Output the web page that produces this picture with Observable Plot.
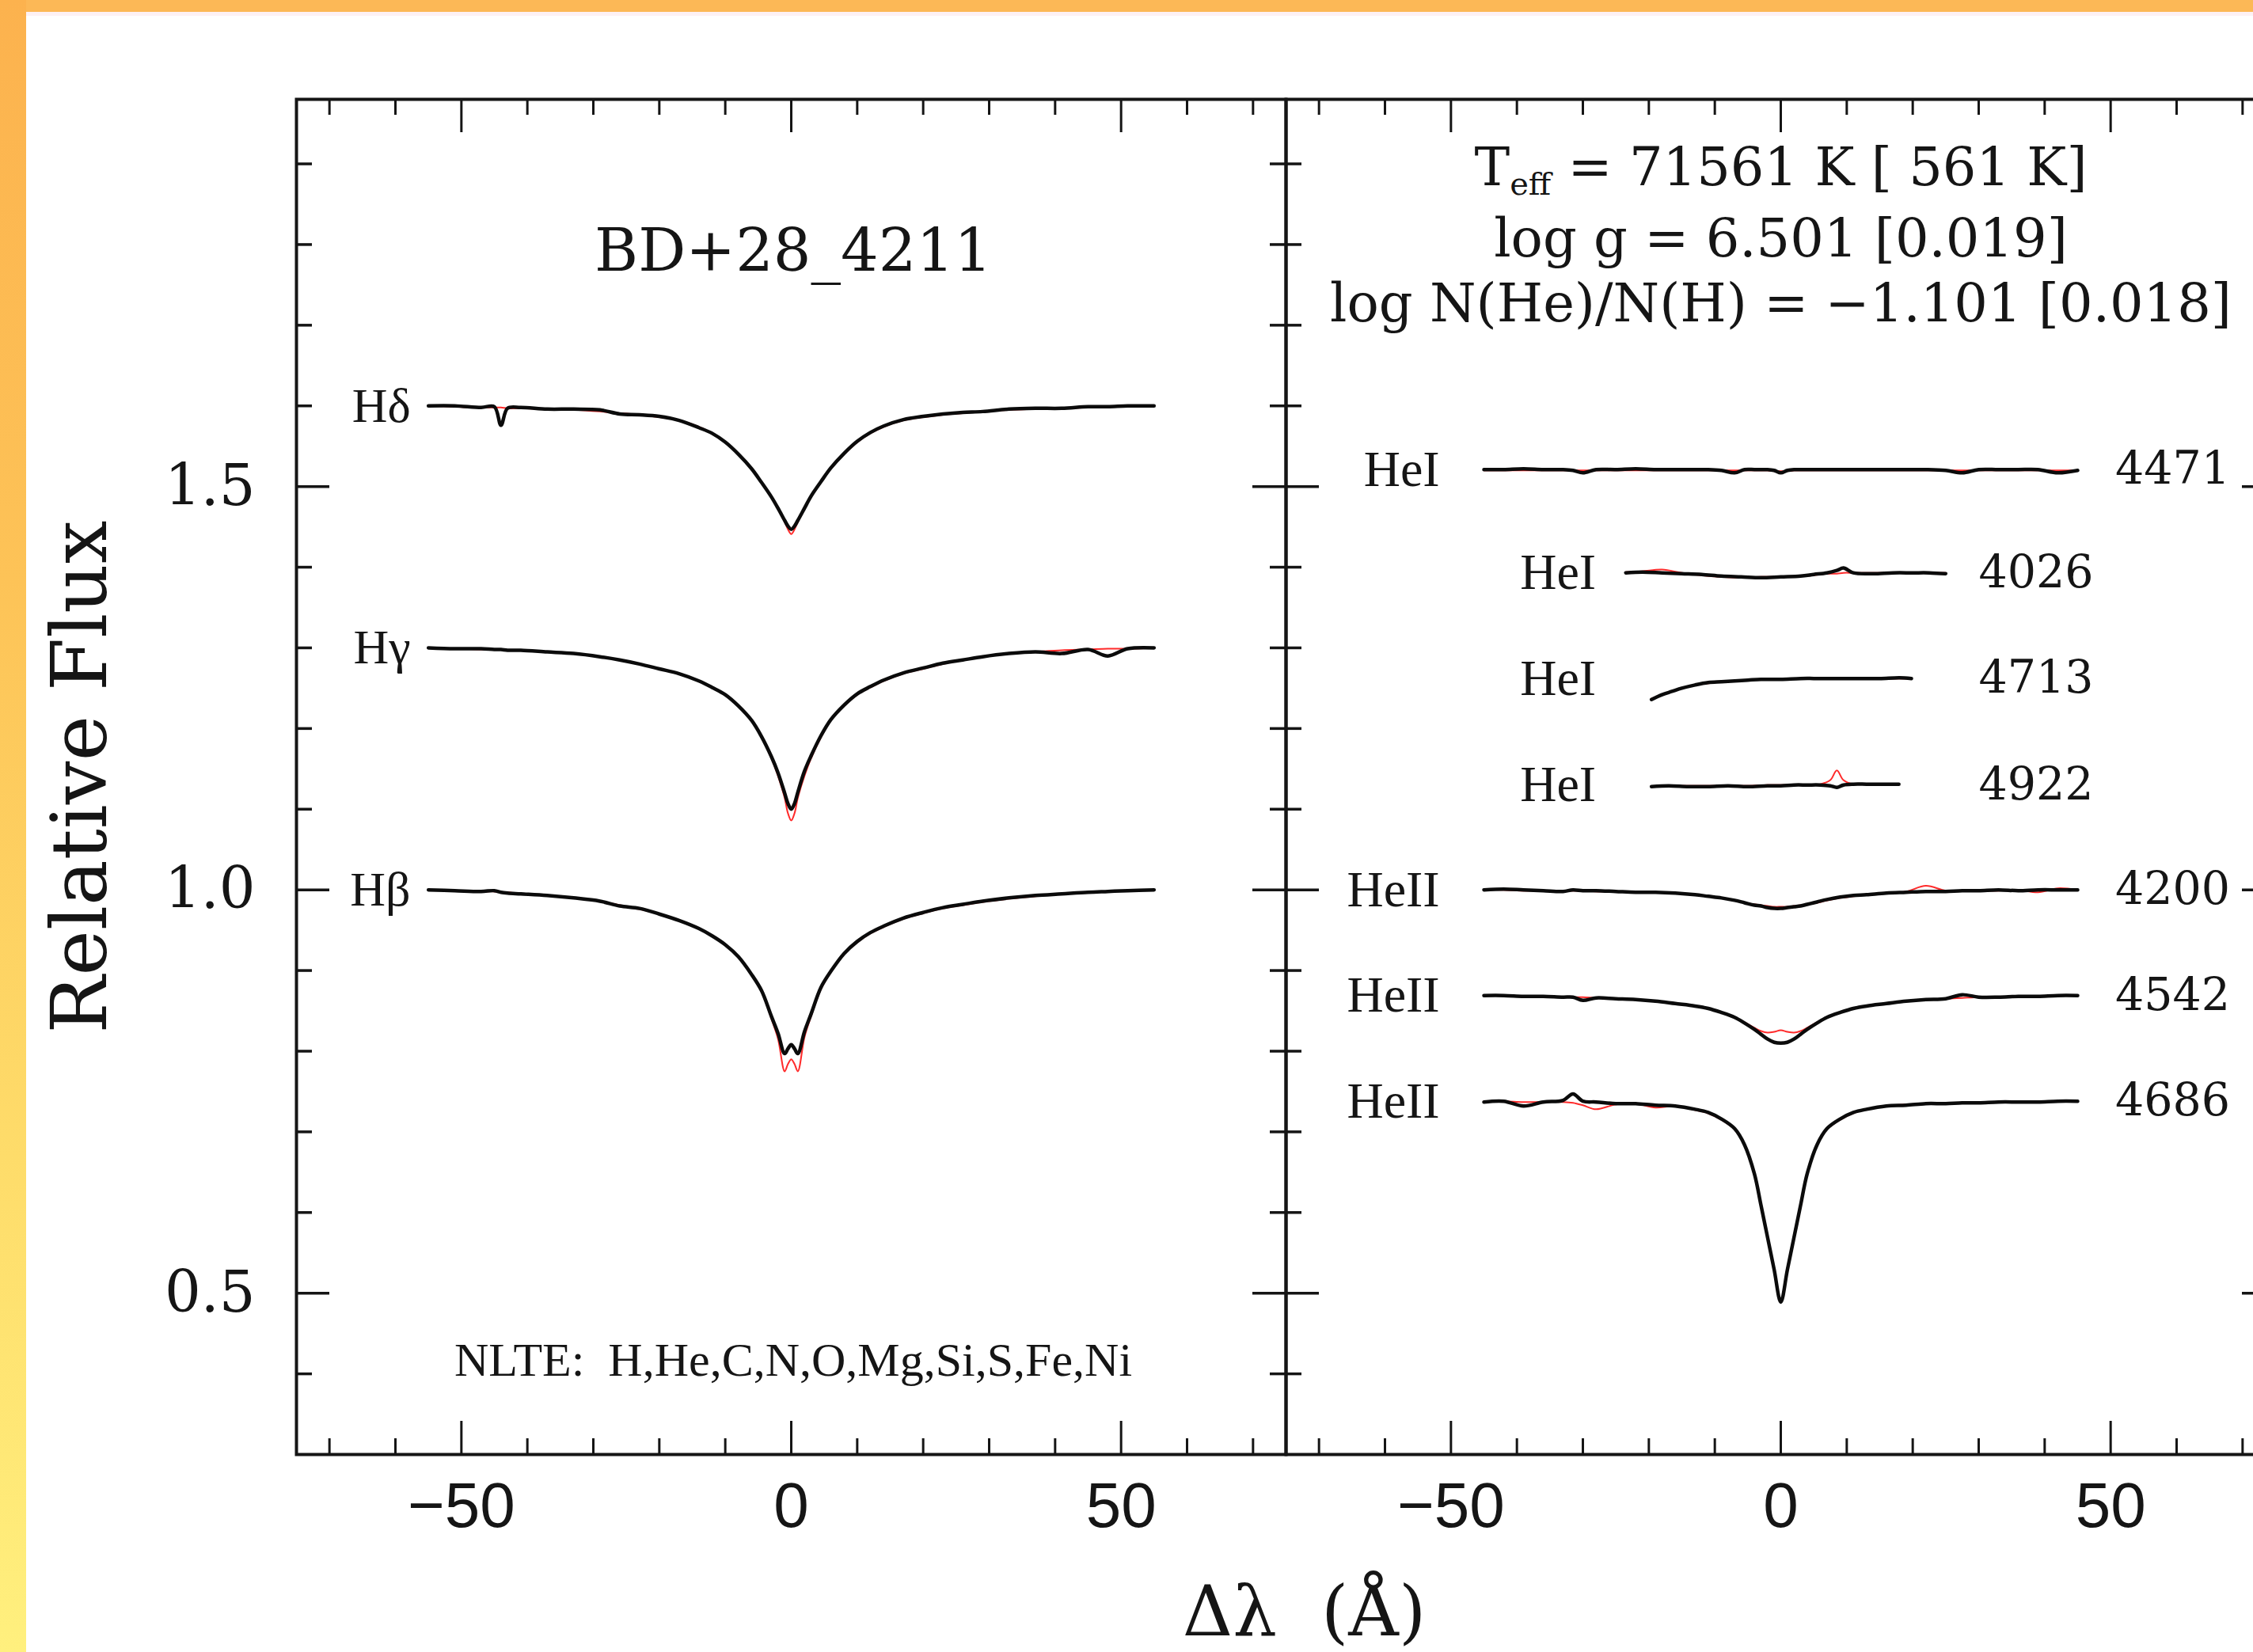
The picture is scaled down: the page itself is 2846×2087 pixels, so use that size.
<!DOCTYPE html>
<html>
<head>
<meta charset="utf-8">
<script src="https://cdn.jsdelivr.net/npm/d3@7"></script>
<script src="https://cdn.jsdelivr.net/npm/@observablehq/plot@0.6"></script>
<style>
  html, body { margin: 0; padding: 0; background: #fff; overflow: hidden; width: 2846px; height: 2087px; }
  #wrap { position: absolute; left: 0; top: 0; width: 2846px; height: 2087px; overflow: hidden; background: #fff; }
  #chart { position: absolute; left: 0; top: 0; }
  #topband { position: absolute; left: 0; top: 0; width: 2846px; height: 15px; background: #fcb856; z-index: 3; }
  #topglow { position: absolute; left: 0; top: 15px; width: 2846px; height: 5px; background: #fdf1f4; z-index: 2; }
  #leftband { position: absolute; left: 0; top: 0; width: 33px; height: 2087px; z-index: 4;
    background: linear-gradient(to bottom, #fcb24e 0%, #fdc357 35%, #fedc6a 70%, #fff07e 100%); }
</style>
</head>
<body>
<div id="wrap">
  <div id="chart"></div>
  <div id="topband"></div>
  <div id="topglow"></div>
  <div id="leftband"></div>
</div>
<script>
// ---------------- data ----------------
// Balmer lines (left panel): offsets from line centre, Angstrom
const balmerDx = [-55,-51,-47,-45,-44,-43,-41,-37,-33,-29,
                  -26,-23,-20,-17,-14,-12,-10,-8,-6,-4.5,
                  -3,-2,-1,-0.5,0,0.5,1,2,3,4.5,
                  6,8,10,12,14,17,20,23,26,29,
                  33,37,41,45,48,51,55];
const hDeltaObs = [1.600,1.600,1.598,1.599,1.576,1.597,1.598,1.596,1.596,1.595,
                   1.590,1.589,1.587,1.582,1.573,1.566,1.555,1.540,1.522,1.505,
                   1.487,1.473,1.458,1.451,1.447,1.451,1.458,1.473,1.488,1.506,
                   1.523,1.541,1.556,1.567,1.575,1.583,1.587,1.590,1.592,1.593,
                   1.596,1.597,1.597,1.599,1.599,1.600,1.600];
const hDeltaFit = [1.600,1.599,1.598,1.598,1.598,1.597,1.597,1.596,1.595,1.593,
                   1.591,1.589,1.586,1.582,1.574,1.566,1.555,1.540,1.522,1.505,
                   1.487,1.472,1.456,1.447,1.441,1.447,1.456,1.472,1.487,1.505,
                   1.522,1.540,1.555,1.566,1.574,1.582,1.586,1.589,1.591,1.593,
                   1.595,1.596,1.597,1.598,1.599,1.599,1.600];
const hGammaObs = [1.300,1.299,1.299,1.298,1.298,1.297,1.297,1.295,1.293,1.289,
                   1.285,1.280,1.274,1.268,1.259,1.251,1.242,1.228,1.210,1.190,
                   1.165,1.145,1.120,1.107,1.100,1.107,1.121,1.147,1.166,1.191,
                   1.211,1.229,1.243,1.252,1.260,1.269,1.275,1.281,1.285,1.289,
                   1.293,1.295,1.293,1.298,1.290,1.299,1.300];
const hGammaFit = [1.300,1.299,1.298,1.298,1.298,1.297,1.297,1.295,1.293,1.289,
                   1.285,1.280,1.274,1.268,1.259,1.251,1.242,1.228,1.210,1.189,
                   1.163,1.141,1.114,1.095,1.086,1.095,1.114,1.141,1.163,1.189,
                   1.210,1.228,1.242,1.251,1.259,1.268,1.274,1.280,1.285,1.289,
                   1.293,1.295,1.297,1.298,1.299,1.299,1.300];
const hBetaObs  = [1.000,0.999,0.998,0.999,0.997,0.996,0.995,0.993,0.990,0.986,
                   0.980,0.977,0.970,0.962,0.952,0.943,0.932,0.917,0.895,0.875,
                   0.843,0.822,0.797,0.803,0.808,0.803,0.797,0.824,0.846,0.879,
                   0.899,0.921,0.936,0.947,0.955,0.965,0.972,0.978,0.982,0.986,
                   0.990,0.993,0.995,0.997,0.998,0.999,1.000];
const hBetaFit  = [1.000,0.999,0.998,0.998,0.997,0.997,0.995,0.993,0.990,0.986,
                   0.981,0.976,0.970,0.962,0.952,0.943,0.932,0.917,0.895,0.874,
                   0.840,0.815,0.775,0.784,0.790,0.784,0.775,0.817,0.843,0.877,
                   0.898,0.920,0.935,0.946,0.954,0.964,0.971,0.977,0.981,0.985,
                   0.989,0.992,0.995,0.997,0.998,0.999,1.000];

// Helium lines (right panel)
const heDx = [-45,-42,-39,-36,-33,-31.5,-30,-28,-25,-22,
              -19,-16,-13,-11,-9,-7,-5.5,-4,-3,-2,
              -1,0,1,2,3,4,5.5,7,9,11,
              13,16,19,22,25,27.5,30,33,36,39,
              42,45];
const he4471Obs = [1.521,1.521,1.522,1.521,1.521,1.520,1.517,1.521,1.521,1.522,
                   1.521,1.521,1.521,1.521,1.520,1.517,1.521,1.521,1.521,1.521,
                   1.520,1.517,1.520,1.521,1.521,1.521,1.521,1.521,1.521,1.521,
                   1.521,1.521,1.521,1.521,1.520,1.517,1.521,1.521,1.521,1.521,
                   1.517,1.520];
const he4471Fit = [1.520,1.520,1.520,1.520,1.520,1.520,1.520,1.520,1.520,1.520,
                   1.520,1.520,1.520,1.520,1.520,1.520,1.520,1.520,1.520,1.520,
                   1.519,1.519,1.519,1.520,1.520,1.520,1.520,1.520,1.520,1.520,
                   1.520,1.520,1.520,1.520,1.520,1.520,1.520,1.520,1.520,1.520,
                   1.520,1.520];
const he4200Obs = [1.000,1.001,1.000,0.999,0.998,1.000,0.999,0.999,0.998,0.997,
                   0.997,0.996,0.994,0.992,0.990,0.987,0.984,0.981,0.980,0.978,
                   0.977,0.977,0.978,0.979,0.980,0.982,0.985,0.988,0.991,0.993,
                   0.994,0.996,0.997,0.998,0.998,0.999,0.999,1.000,0.999,1.000,
                   1.000,1.000];
const he4200Fit = [1.000,1.000,0.999,0.999,0.999,0.999,0.999,0.998,0.998,0.998,
                   0.997,0.996,0.994,0.992,0.990,0.987,0.984,0.982,0.981,0.980,
                   0.979,0.979,0.979,0.980,0.981,0.982,0.984,0.987,0.990,0.992,
                   0.994,0.996,0.998,1.005,0.999,0.999,0.999,0.999,1.000,0.997,
                   1.002,1.000];
const he4542Obs = [0.869,0.869,0.868,0.868,0.867,0.867,0.863,0.866,0.865,0.864,
                   0.862,0.859,0.856,0.853,0.848,0.842,0.835,0.827,0.821,0.815,
                   0.811,0.810,0.811,0.815,0.821,0.827,0.835,0.842,0.848,0.853,
                   0.856,0.859,0.862,0.864,0.865,0.870,0.867,0.867,0.868,0.868,
                   0.869,0.869];
const he4542Fit = [0.869,0.869,0.868,0.868,0.867,0.867,0.867,0.866,0.865,0.864,
                   0.862,0.859,0.856,0.853,0.848,0.842,0.836,0.829,0.825,0.823,
                   0.824,0.826,0.824,0.823,0.825,0.829,0.836,0.842,0.848,0.853,
                   0.856,0.859,0.862,0.864,0.865,0.866,0.867,0.867,0.868,0.868,
                   0.869,0.869];
const he4686Obs = [0.737,0.738,0.732,0.737,0.739,0.747,0.738,0.737,0.735,0.735,
                   0.733,0.732,0.728,0.724,0.716,0.704,0.684,0.648,0.609,0.569,
                   0.529,0.489,0.529,0.569,0.609,0.648,0.684,0.704,0.716,0.724,
                   0.728,0.732,0.733,0.735,0.735,0.736,0.736,0.737,0.737,0.737,
                   0.738,0.738];
const he4686Fit = [0.738,0.738,0.737,0.737,0.737,0.736,0.733,0.728,0.734,0.735,
                   0.730,0.732,0.727,0.723,0.715,0.703,0.683,0.646,0.606,0.567,
                   0.528,0.492,0.528,0.567,0.606,0.646,0.683,0.703,0.715,0.723,
                   0.728,0.732,0.734,0.735,0.735,0.736,0.736,0.737,0.737,0.737,
                   0.738,0.738];
const he4026Dx  = [-23.5,-21,-18,-15,-12,-9,-6,-3,0,3,5,7,8.5,9.5,11,14,17,20,22.5,25];
const he4026Obs = [1.393,1.394,1.393,1.392,1.391,1.389,1.388,1.387,1.388,1.389,1.391,1.393,1.396,1.399,1.393,1.392,1.393,1.393,1.393,1.392];
const he4026Fit = [1.394,1.395,1.397,1.393,1.390,1.388,1.387,1.388,1.388,1.389,1.390,1.392,1.392,1.393,1.393,1.393,1.393,1.393,1.393,1.393];
const he4713Dx  = [-19.6,-18,-16.5,-15,-13,-11,-9,-7,-5,-3,0,3,6,9,12,15,18,19.8];
const he4713Obs = [1.236,1.242,1.246,1.250,1.254,1.257,1.258,1.259,1.260,1.261,1.261,1.262,1.262,1.262,1.262,1.262,1.263,1.262];
const he4713Fit = [1.237,1.242,1.246,1.250,1.254,1.256,1.258,1.259,1.260,1.261,1.261,1.262,1.262,1.262,1.262,1.262,1.262,1.262];
const he4922Dx  = [-19.6,-17,-14,-11,-8,-5,-2,0,2,4,6,7.5,8.5,9.5,11,13,15,17.9];
const he4922Obs = [1.128,1.129,1.128,1.128,1.129,1.128,1.129,1.129,1.130,1.130,1.130,1.129,1.127,1.130,1.131,1.131,1.131,1.131];
const he4922Fit = [1.128,1.129,1.129,1.129,1.129,1.129,1.130,1.130,1.130,1.130,1.131,1.136,1.148,1.136,1.131,1.131,1.131,1.131];

// labels and levels
const balmerNames  = ["H\u03b4", "H\u03b3", "H\u03b2"];
const balmerLevels = [1.60, 1.30, 1.00];
const heIons   = ["HeI", "HeI", "HeI", "HeI", "HeII", "HeII", "HeII"];
const heWaves  = ["4471", "4026", "4713", "4922", "4200", "4542", "4686"];
const heLevels = [1.521, 1.393, 1.262, 1.130, 1.000, 0.869, 0.738];
const starName   = "BD+28_4211";
const paramLines = ["Teff = 71561 K [ 561 K]", "log g = 6.501 [0.019]", "log N(He)/N(H) = \u22121.101 [0.018]"];
const nlteNote   = "NLTE:  H,He,C,N,O,Mg,Si,S,Fe,Ni";
const yTitle = "Relative Flux";
const xTitle = "\u0394\u03bb  (\u00c5)";
const xMajor = [-50, 0, 50];
const xMinor = [-70, -60, -40, -30, -20, -10, 10, 20, 30, 40, 60, 70];
const yMajor = [0.5, 1.0, 1.5];
const yMinor = [0.4, 0.6, 0.7, 0.8, 0.9, 1.1, 1.2, 1.3, 1.4, 1.6, 1.7, 1.8, 1.9];

// ---------------- layout (positions of annotations) ----------------
const balmerLabelX = -57.7;
const heIonX  = [-51.7, -28, -28, -28, -51.7, -51.7, -51.7];
const heWaveX = [50.7, 30, 30, 30, 50.7, 50.7, 50.7];
const starPos = [0.3, 1.791];
const paramY  = [1.895, 1.806, 1.726];
const nltePos = [0.3, 0.416];
const FRAME_W = 1250, FRAME_H = 1712, MINOR = 20, MAJOR = 42;
const INK = "#151515";

// ---------------- tables for the library ----------------
const spectra = [
  {panel: "H",  id: "Hd",   dx: balmerDx, obs: hDeltaObs, fit: hDeltaFit},
  {panel: "H",  id: "Hg",   dx: balmerDx, obs: hGammaObs, fit: hGammaFit},
  {panel: "H",  id: "Hb",   dx: balmerDx, obs: hBetaObs,  fit: hBetaFit},
  {panel: "He", id: "4471", dx: heDx,     obs: he4471Obs, fit: he4471Fit},
  {panel: "He", id: "4026", dx: he4026Dx, obs: he4026Obs, fit: he4026Fit},
  {panel: "He", id: "4713", dx: he4713Dx, obs: he4713Obs, fit: he4713Fit},
  {panel: "He", id: "4922", dx: he4922Dx, obs: he4922Obs, fit: he4922Fit},
  {panel: "He", id: "4200", dx: heDx,     obs: he4200Obs, fit: he4200Fit},
  {panel: "He", id: "4542", dx: heDx,     obs: he4542Obs, fit: he4542Fit},
  {panel: "He", id: "4686", dx: heDx,     obs: he4686Obs, fit: he4686Fit}
];
for (const s of spectra) {
  if (s.dx.length !== s.obs.length || s.dx.length !== s.fit.length)
    throw new Error("length mismatch " + s.id + " " + s.dx.length + "/" + s.obs.length + "/" + s.fit.length);
}
const obsRows = spectra.flatMap(s => s.dx.map((dx, i) => ({panel: s.panel, id: s.id, dx, flux: s.obs[i]})));
const fitRows = spectra.flatMap(s => s.dx.map((dx, i) => ({panel: s.panel, id: s.id, dx, flux: s.fit[i]})));

const balmerRows = balmerNames.map((t, i) => ({panel: "H", t, x: balmerLabelX, y: balmerLevels[i]}));
const ionRows  = heIons.map((t, i) => ({panel: "He", t, x: heIonX[i], y: heLevels[i]}));
const waveRows = heWaves.map((t, i) => ({panel: "He", t, x: heWaveX[i], y: heLevels[i]}));
const paramRows = paramLines.map((t, i) => ({panel: "He", t, x: 0, y: paramY[i]}));

const chart = Plot.plot({
  width: 2880,
  height: 2087,
  marginLeft: 374,
  marginRight: 6,
  marginTop: 125,
  marginBottom: 250,
  style: {background: "transparent", maxWidth: "none", overflow: "visible", color: INK, fontFamily: "DejaVu Serif"},
  x: {domain: [-75, 75]},
  y: {domain: [0.30, 1.98]},
  fx: {domain: ["H", "He"], padding: 0, axis: null, label: null},
  marks: [
    // tick marks on all four sides (inward, pgplot style)
    Plot.tickX(xMinor, {x: d => d, insetTop: FRAME_H - MINOR, stroke: INK, strokeWidth: 3}),
    Plot.tickX(xMinor, {x: d => d, insetBottom: FRAME_H - MINOR, stroke: INK, strokeWidth: 3}),
    Plot.tickX(xMajor, {x: d => d, insetTop: FRAME_H - MAJOR, stroke: INK, strokeWidth: 3}),
    Plot.tickX(xMajor, {x: d => d, insetBottom: FRAME_H - MAJOR, stroke: INK, strokeWidth: 3}),
    Plot.tickY(yMinor, {y: d => d, insetRight: FRAME_W - MINOR, stroke: INK, strokeWidth: 3.5}),
    Plot.tickY(yMinor, {y: d => d, insetLeft: FRAME_W - MINOR, stroke: INK, strokeWidth: 3.5}),
    Plot.tickY(yMajor, {y: d => d, insetRight: FRAME_W - MAJOR, stroke: INK, strokeWidth: 3.5}),
    Plot.tickY(yMajor, {y: d => d, insetLeft: FRAME_W - MAJOR, stroke: INK, strokeWidth: 3.5}),
    Plot.frame({stroke: INK, strokeWidth: 4}),

    // model (red, thin) under observation (black, thick)
    Plot.line(fitRows, {x: "dx", y: "flux", z: "id", fx: "panel", stroke: "#ff2a2a", strokeWidth: 2, curve: "catmull-rom"}),
    Plot.line(obsRows, {x: "dx", y: "flux", z: "id", fx: "panel", stroke: "#0b0b0b", strokeWidth: 4.5, curve: "catmull-rom"}),

    // line identifications
    Plot.text(balmerRows, {x: "x", y: "y", text: "t", fx: "panel", textAnchor: "end", fontFamily: "Liberation Serif", fontSize: 62, fill: INK}),
    Plot.text(ionRows, {x: "x", y: "y", text: "t", fx: "panel", textAnchor: "end", fontFamily: "Liberation Serif", fontSize: 64, fill: INK}),
    Plot.text(waveRows, {x: "x", y: "y", text: "t", fx: "panel", textAnchor: "start", fontFamily: "DejaVu Serif", fontSize: 57, fill: INK}),

    // annotations
    Plot.text([{panel: "H", t: starName}], {x: () => starPos[0], y: () => starPos[1], text: "t", fx: "panel", fontFamily: "DejaVu Serif", fontSize: 75, fill: INK}),
    Plot.text(paramRows, {x: "x", y: "y", text: "t", fx: "panel", fontFamily: "DejaVu Serif", fontSize: 67, fill: INK}),
    Plot.text([{panel: "H", t: nlteNote}], {x: () => nltePos[0], y: () => nltePos[1], text: "t", fx: "panel", fontFamily: "Liberation Serif", fontSize: 60, fill: INK}),

    // axis titles
    Plot.text([{panel: "H", t: yTitle}], {text: "t", fx: "panel", frameAnchor: "left", textAnchor: "middle", lineAnchor: "middle", rotate: -90, dx: -272, fontFamily: "DejaVu Serif", fontSize: 97, fill: INK}),
    Plot.text([{panel: "H", t: xTitle}], {text: "t", fx: "panel", frameAnchor: "bottom-right", textAnchor: "middle", lineAnchor: "middle", dx: 23, dy: 200, fontFamily: "DejaVu Serif", fontSize: 88, fill: INK}),

    // tick labels
    Plot.axisX({ticks: xMajor, tickSize: 0, tickPadding: 35, fontSize: 80, fontFamily: "Liberation Sans", label: null, fill: INK}),
    Plot.axisY({ticks: yMajor, tickSize: 0, tickPadding: 52, fontSize: 72, fontFamily: "DejaVu Serif", tickFormat: d3.format(".1f"), label: null, fill: INK})
  ]
});

// subscript "eff" in T_eff
d3.select(chart).selectAll("text").each(function () {
  if (this.textContent === paramLines[0]) {
    const el = d3.select(this);
    el.text(null);
    el.append("tspan").text("T");
    el.append("tspan").attr("dy", 12).attr("font-size", 40).text("eff");
    el.append("tspan").attr("dy", -12).text(paramLines[0].slice(4));
  }
});

document.getElementById("chart").appendChild(chart);
</script>
</body>
</html>
